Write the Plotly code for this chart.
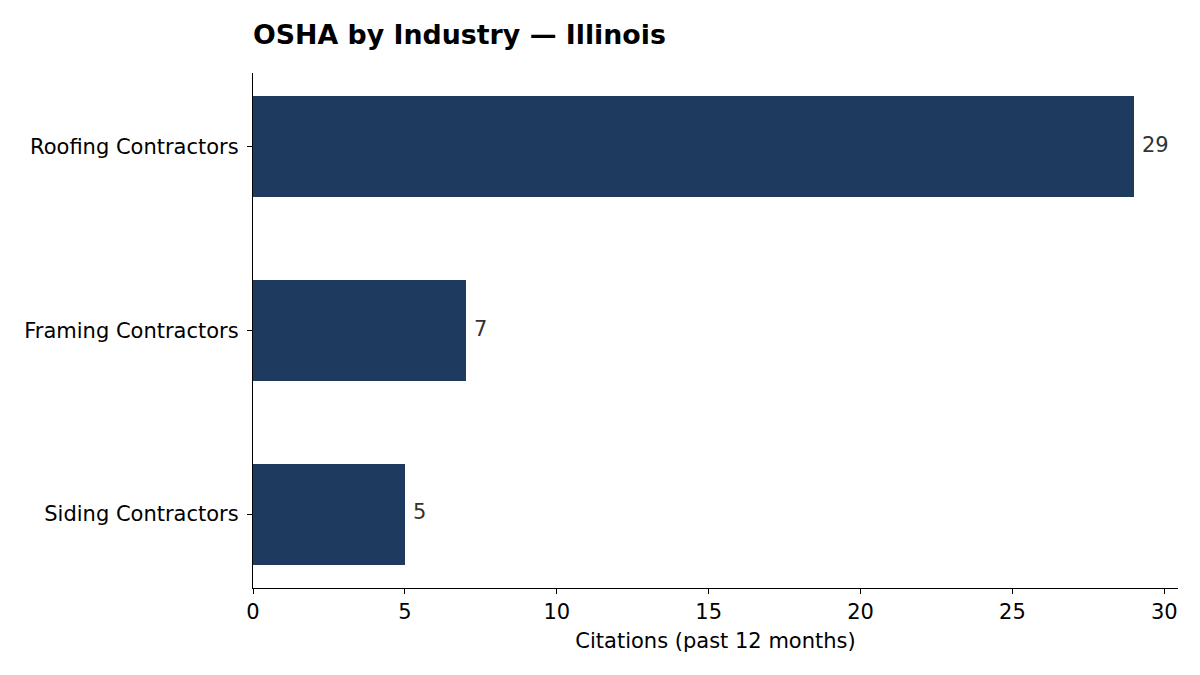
import plotly.graph_objects as go

# data
industries = ["Roofing Contractors", "Framing Contractors", "Siding Contractors"]
citations = [29, 7, 5]
x_ticks = [0, 5, 10, 15, 20, 25, 30]

bar_color = "#1f3a5f"
font_family = "DejaVu Sans"
fs = 21  # tick / label size

# the page puts the figure 8px in from the top-left corner
W, H = 1192, 667

fig = go.Figure()

fig.add_trace(go.Bar(
    x=citations,
    y=industries,
    orientation="h",
    width=0.55,
    marker=dict(color=bar_color, line=dict(width=0)),
    hoverinfo="x+y",
    showlegend=False,
))

# value labels just right of the bar ends
for name, val in zip(industries, citations):
    fig.add_annotation(
        x=val, y=name, text=str(val),
        xanchor="left", yanchor="middle", xshift=6, yshift=2,
        showarrow=False,
        font=dict(family=font_family, size=fs, color="#333333"),
    )

fig.update_layout(
    width=W,
    height=H,
    paper_bgcolor="white",
    plot_bgcolor="white",
    margin=dict(l=245, r=22, t=65, b=87),
    font=dict(family=font_family, size=fs, color="black"),
    title=dict(
        text="<b>OSHA by Industry — Illinois</b>",
        x=245 / W, xanchor="left", xref="container",
        y=1 - 27 / H, yanchor="middle", yref="container",
        font=dict(family=font_family, size=26.8, color="black"),
    ),
    bargap=0,
)

fig.update_xaxes(
    range=[0, 30.45],
    tickvals=x_ticks,
    showgrid=False,
    zeroline=False,
    showline=True,
    linecolor="black",
    linewidth=1.2,
    ticks="outside",
    ticklen=5,
    tickwidth=1.2,
    tickcolor="black",
    ticklabelstandoff=0,
    tickfont=dict(size=fs),
    title=dict(text="Citations (past 12 months)", standoff=10, font=dict(size=fs)),
)

fig.update_yaxes(
    categoryorder="array",
    categoryarray=industries,
    range=[2.4025, -0.4025],
    showgrid=False,
    zeroline=False,
    showline=True,
    linecolor="black",
    linewidth=1.2,
    ticks="outside",
    ticklen=5,
    tickwidth=1.2,
    tickcolor="black",
    ticklabelstandoff=4,
    tickfont=dict(size=fs),
)

fig.write_html("out.html")
